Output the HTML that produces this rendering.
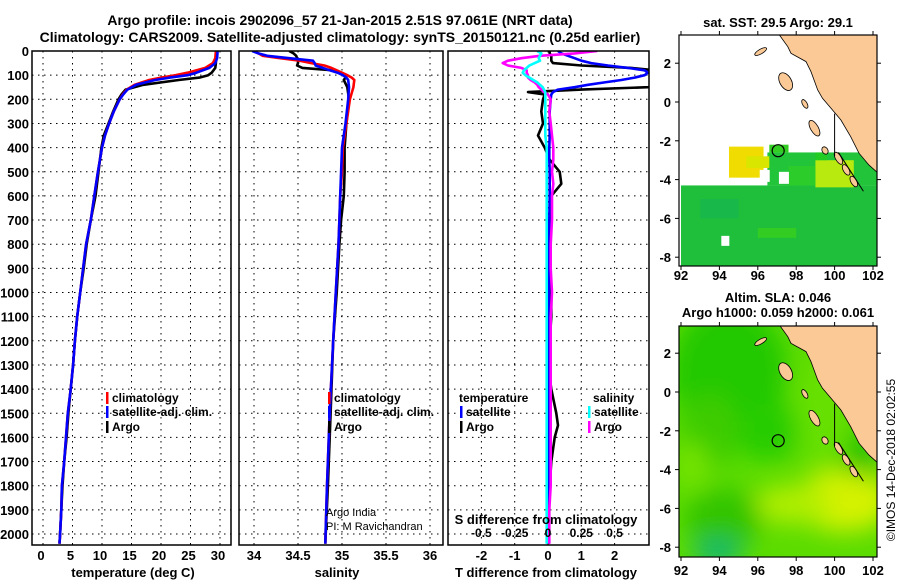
<!DOCTYPE html>
<html><head><meta charset="utf-8"><style>
html,body{margin:0;padding:0;background:#fff;}
svg{display:block;font-family:"Liberation Sans",Arial,sans-serif;font-weight:bold;}
</style></head><body>
<svg id="c" width="900" height="580" viewBox="0 0 900 580">
<defs>
<clipPath id="cp1"><rect x="32" y="51" width="199" height="494"/></clipPath>
<clipPath id="cp2"><rect x="239" y="51" width="204" height="494"/></clipPath>
<clipPath id="cp3"><rect x="448" y="51" width="201" height="494"/></clipPath>
<clipPath id="cm1"><rect x="679" y="35" width="198" height="231"/></clipPath>
<clipPath id="cm2"><rect x="679" y="326" width="198" height="231"/></clipPath>
<filter id="bl" x="-50%" y="-50%" width="200%" height="200%"><feGaussianBlur stdDeviation="12"/></filter>
</defs>
<text x="340" y="25" font-size="14" text-anchor="middle">Argo profile: incois 2902096_57 21-Jan-2015 2.51S 97.061E (NRT data)</text>
<text x="340" y="42" font-size="14" text-anchor="middle">Climatology: CARS2009. Satellite-adjusted climatology: synTS_20150121.nc (0.25d earlier)</text>
<g id="g"></g>
</svg>
<script>
// ---- data ----
const tDepth=[0,30,50,70,90,100,110,120,140,160,180,200,250,300,350,400,500,600,700,800,900,1000,1100,1200,1300,1400,1500,1600,1700,1800,1900,2000,2040];
const tClim=[29.3,29.2,28.8,27.5,24.5,22.5,20,18,15.5,14.2,13.5,13,12,11.2,10.5,10,9.3,8.7,8.1,7.3,6.8,6.3,5.8,5.4,5.1,4.7,4.2,3.9,3.6,3.2,3.1,2.9,2.8];
const tSat=[29.6,29.5,29.2,28.2,26,24.5,21.5,19,15.8,14.3,13.6,13,12,11.2,10.5,10,9.3,8.7,8.1,7.3,6.8,6.3,5.8,5.4,5.1,4.7,4.2,3.9,3.6,3.2,3.1,2.9,2.8];
const tArgo=[29.4,29.3,29.3,29.2,28.6,28,26.5,23,17,14,13.3,12.8,11.9,11.1,10.3,9.9,9.4,8.9,8.1,7.4,6.9,6.3,5.8,5.4,5.1,4.7,4.3,4,3.6,3.3,3.1,2.9,2.8];
const sDepth=[0,10,20,30,40,50,60,70,80,90,100,110,120,150,200,300,400,500,600,700,800,1000,1200,1500,1800,2040];
const sClim=[34.0,34.05,34.1,34.3,34.52,34.65,34.8,34.88,34.94,35.0,35.06,35.11,35.14,35.13,35.09,35.05,35.01,35.0,34.98,34.97,34.96,34.93,34.9,34.86,34.83,34.81];
const sSat=[33.98,34.05,34.15,34.4,34.67,34.69,34.7,34.78,34.86,34.95,35.01,35.05,35.07,35.08,35.07,35.04,35.0,34.99,34.98,34.97,34.96,34.93,34.9,34.86,34.83,34.81];
const sArgo=[34.4,34.45,34.48,34.49,34.5,34.5,34.49,34.55,34.9,34.98,35.03,35.04,35.02,35.06,35.08,35.05,35.03,35.03,35.02,34.99,34.97,34.94,34.9,34.87,34.84,34.81];
const dDepth=[0,10,20,30,40,50,60,70,80,90,100,110,120,130,140,150,160,170,180,200,250,300,350,400,450,500,550,600,700,800,900,1000,1100,1200,1300,1400,1500,1550,1600,1700,1800,1900,2000,2040];
const dTSat=[0.3,0.4,0.6,0.8,1.0,1.3,1.8,2.4,2.9,3.0,2.9,2.6,2.2,1.7,1.2,0.8,0.3,0.15,0.1,0.08,0.05,0.05,0.05,0.04,0.04,0.05,0.05,0.05,0.04,0.04,0.03,0.03,0.02,0.02,0.02,0.02,0.02,0.02,0.02,0.02,0.02,0.02,0.02,0.02];
const dTArgo=[0.05,0.05,0.1,0.1,0.1,0.15,1,2.5,3.2,3.5,3.6,3.7,3.8,3.8,3.8,3.0,1.0,-0.6,-0.1,-0.15,-0.2,-0.15,-0.3,-0.1,0.05,0.35,0.4,0.1,0.05,0.05,0.05,0.1,0.1,0.05,0.0,0.1,0.25,0.3,0.2,0.1,0.05,0.0,0.0,0.0];
const dSArgo=[0.37,0.2,-0.06,-0.2,-0.3,-0.34,-0.3,-0.2,-0.16,-0.16,-0.15,-0.15,-0.13,-0.1,-0.08,-0.07,-0.05,-0.03,0.0,0.02,0.01,0.02,0.03,0.04,0.04,0.03,0.04,0.03,0.03,0.02,0.02,0.03,0.02,0.02,0.02,0.02,0.02,0.02,0.02,0.02,0.02,0.01,0.01,0.01];
const dSSat=[-0.08,-0.05,-0.06,-0.07,-0.06,-0.1,-0.14,-0.16,-0.18,-0.19,-0.17,-0.14,-0.11,-0.08,-0.06,-0.04,-0.03,-0.02,-0.02,-0.02,-0.02,-0.02,-0.02,-0.01,-0.01,-0.01,-0.01,-0.01,-0.01,-0.01,-0.01,-0.01,-0.01,-0.01,-0.01,-0.01,-0.01,-0.01,-0.01,-0.01,-0.01,-0.01,-0.01,-0.01];
const depthTicks=[0,100,200,300,400,500,600,700,800,900,1000,1100,1200,1300,1400,1500,1600,1700,1800,1900,2000];
const tTicks=[0,5,10,15,20,25,30];
const sTicks=[34,34.5,35,35.5,36];
const sTickLabels=["34","34.5","35","35.5","36"];
const dTTicks=[-2,-1,0,1,2];
const dSTicks=[-0.5,-0.25,0,0.25,0.5];
const dSTickLabels=["-0.5","-0.25","0","0.25","0.5"];
const lonTicks=[92,94,96,98,100,102];
const latTicks=[2,0,-2,-4,-6,-8];
const floatLon=97.061, floatLat=-2.51;
// ---- axes ----
const yD=d=>51+d*0.2415;
const xT=t=>43+t*5.9;
const xS=s=>254+(s-34)*88;
const xDT=v=>548+v*33.3;
const xDS=v=>548+v*133.2;
const mx=lon=>681+(lon-92)*19.2;
const myTop=lat=>102-lat*19.4;
const myBot=lat=>392-lat*19.4;
const NS="http://www.w3.org/2000/svg";
const G=document.getElementById('g');
function el(tag,attrs,parent){const e=document.createElementNS(NS,tag);for(const k in attrs)e.setAttribute(k,attrs[k]);(parent||G).appendChild(e);return e;}
function txt(x,y,s,size,anchor,parent){const t=el('text',{x:x,y:y,'font-size':size,'text-anchor':anchor||'middle'},parent);t.textContent=s;return t;}
function panelFrame(x0,x1,name){
  const r=el('rect',{x:x0,y:51,width:x1-x0,height:494,fill:'none',stroke:'#000','stroke-width':1.5});
  
  
}
function grid(xs,x0,x1,clip){
  const g=el('g',{stroke:'#000','stroke-width':1,'stroke-dasharray':'1.5 4.5','clip-path':'url(#'+clip+')'});
  
  
  xs.forEach(x=>el('line',{x1:x,x2:x,y1:51,y2:545},g));
  depthTicks.forEach(d=>el('line',{x1:x0,x2:x1,y1:yD(d),y2:yD(d)},g));
}
function line(dep,vals,fx,color,clip,name,w){
  const n=Math.min(dep.length,vals.length);let p='';
  for(let i=0;i<n;i++)p+=(i?'L':'M')+fx(vals[i]).toFixed(1)+','+yD(dep[i]).toFixed(1);
  const e=el('path',{d:p,fill:'none',stroke:color,'stroke-width':w||2.6,'stroke-linejoin':'round','clip-path':'url(#'+clip+')'});
  
  
}
// depth labels
depthTicks.forEach(d=>{const t=txt(29,yD(d)+5,String(d),13,'end');
  
  });
// panel 1 temperature
grid(tTicks.map(xT),32,231,'cp1');
line(tDepth,tArgo,xT,'#000','cp1','temp-argo-line');
line(tDepth,tClim,xT,'#f00','cp1','temp-climatology-line');
line(tDepth,tSat,xT,'#00f','cp1','temp-satellite-line');
panelFrame(32,231,'temperature-panel');
tTicks.forEach(v=>{const t=txt(xT(v)-2,560,String(v),13);
  
  });
let at=txt(133,577,'temperature (deg C)',13);

// panel 2 salinity
grid(sTicks.map(xS),239,443,'cp2');
line(sDepth,sArgo,xS,'#000','cp2','salinity-argo-line');
line(sDepth,sClim,xS,'#f00','cp2','salinity-climatology-line');
line(sDepth,sSat,xS,'#00f','cp2','salinity-satellite-line');
panelFrame(239,443,'salinity-panel');
sTicks.forEach((v,i)=>{const t=txt(xS(v),560,sTickLabels[i],13);
  
  });
at=txt(337,577,'salinity',13);

// panel 3 differences
grid(dTTicks.map(xDT),448,649,'cp3');
line(dDepth,dTArgo,xDT,'#000','cp3','tdiff-argo-line');
line(dDepth,dTSat,xDT,'#00f','cp3','tdiff-satellite-line');
line(dDepth,dSArgo,xDS,'#f0f','cp3','sdiff-argo-line');
line(dDepth,dSSat,xDS,'#0ff','cp3','sdiff-satellite-line');
panelFrame(448,649,'difference-panel');
dTTicks.forEach(v=>{const t=txt(xDT(v),560,String(v),13);
  
  });
dSTicks.forEach((v,i)=>{const t=txt(xDS(v),537,dSTickLabels[i],12);
  
  });
at=txt(546,524,'S difference from climatology',13);

at=txt(546,577,'T difference from climatology',13);

// legends
function leg(x,y,color,label,name,size){
  const g=el('g',{});
  el('rect',{x:x,y:y-10,width:2.5,height:12,fill:color},g);
  txt(x+6,y,label,size||12,'start',g);
}
leg(106,402,'#f00','climatology','legend-temp-climatology');
leg(106,416,'#00f','satellite-adj. clim.','legend-temp-satellite');
leg(106,431,'#000','Argo','legend-temp-argo');
leg(328,402,'#f00','climatology','legend-sal-climatology');
leg(328,416,'#00f','satellite-adj. clim.','legend-sal-satellite');
leg(328,431,'#000','Argo','legend-sal-argo');
at=txt(459,402,'temperature',12,'start');
leg(460,416,'#00f','satellite','legend-tdiff-satellite');
leg(460,431,'#000','Argo','legend-tdiff-argo');
at=txt(593,402,'salinity',12,'start');
leg(588,416,'#0ff','satellite','legend-sdiff-satellite');
leg(588,431,'#f0f','Argo','legend-sdiff-argo');
let cr=el('text',{x:326,y:516,'font-size':11,'font-weight':'normal'});cr.textContent='Argo India';

cr=el('text',{x:326,y:530,'font-size':11,'font-weight':'normal'});cr.textContent='PI: M Ravichandran';


// ---- maps ----
function land(my,g){
  const coast=[[97.13,3.45],[97.56,2.85],[97.73,2.51],[98.51,2.08],[98.77,1.56],[99.12,0.62],[99.37,0.19],[99.89,-0.41],[100.33,-0.93],[100.84,-1.79],[101.27,-2.64],[101.79,-3.25],[102.3,-3.7],[102.3,3.5]];
  const p=coast.map((c,i)=>(i?'L':'M')+mx(c[0]).toFixed(1)+','+my(c[1]).toFixed(1)).join('')+'Z';
  const l=el('path',{d:p,fill:'#fbc996',stroke:'#000','stroke-width':0.8},g);
  
  const isl=[[96.15,2.6,0.35,0.12],[97.45,1.05,0.3,0.5],[98.45,-0.1,0.12,0.25],[98.95,-1.35,0.2,0.45],[99.5,-2.5,0.15,0.2],[100.2,-2.9,0.15,0.35],[100.6,-3.5,0.15,0.3],[101.0,-4.1,0.15,0.3]];
  isl.forEach(s=>{const e=el('ellipse',{cx:mx(s[0]),cy:my(s[1]),rx:s[2]*19.2,ry:s[3]*19.4,fill:'#fbc996',stroke:'#000','stroke-width':0.8,transform:'rotate(-30 '+mx(s[0])+' '+my(s[1])+')'},g);
    });
  el('line',{x1:mx(100),y1:my(-0.6),x2:mx(100),y2:my(-2.8),stroke:'#000','stroke-width':1},g);
  el('line',{x1:mx(100.2),y1:my(-2.6),x2:mx(101.5),y2:my(-4.6),stroke:'#000','stroke-width':1},g);
}
function mapAxes(my,y0,name,labelY){
  const r=el('rect',{x:679,y:y0,width:198,height:231,fill:'none',stroke:'#000','stroke-width':1.2});
  
  lonTicks.forEach(v=>{const t=txt(mx(v),labelY,String(v),13);
    el('line',{x1:mx(v),x2:mx(v),y1:y0,y2:y0-4,stroke:'#000'});el('line',{x1:mx(v),x2:mx(v),y1:y0+231,y2:y0+235,stroke:'#000'});});
  latTicks.forEach(v=>{const t=txt(671,my(v)+5,String(v),13,'end');
    el('line',{x1:675,x2:679,y1:my(v),y2:my(v),stroke:'#000'});el('line',{x1:877,x2:881,y1:my(v),y2:my(v),stroke:'#000'});});
  const c=el('circle',{cx:mx(floatLon),cy:my(floatLat),r:6,fill:'none',stroke:'#000','stroke-width':1.2});
  
}
// top map: SST patches [lon0,lat0,lon1,lat1,color]
const sstPatches=[[92,-4.3,102.3,-8.6,'#1fbf3c'],[96.5,-2.6,102.3,-4.3,'#22c43a'],[94.5,-2.3,96.3,-3.9,'#f0dc00'],[95.4,-2.8,96.6,-3.4,'#d8e600'],[99,-3.0,101,-4.4,'#b8ea10'],[96.6,-2.2,97.6,-2.6,'#33cc22'],[99,-2.6,99.6,-3.0,'#22cc22'],[100.1,1.8,101.5,2.8,'#11bb55'],[97.6,-3.3,99,-4.3,'#2ccc2a'],[93,-5,95,-6,'#18b84a'],[96,-6.5,98,-7,'#33cc22']];
const topMap=el('g',{'clip-path':'url(#cm1)'});
sstPatches.forEach(p=>{const r=el('rect',{x:mx(p[0]),y:myTop(p[1]),width:mx(p[2])-mx(p[0]),height:myTop(p[3])-myTop(p[1]),fill:p[4]},topMap);
  });
el('rect',{x:mx(96.1),y:myTop(-3.5),width:10,height:12,fill:'#fff'},topMap);
el('rect',{x:mx(97.1),y:myTop(-3.6),width:10,height:12,fill:'#fff'},topMap);
el('rect',{x:mx(94.1),y:myTop(-6.9),width:8,height:10,fill:'#fff'},topMap);
land(myTop,topMap);
mapAxes(myTop,35,'sst-map-frame',280);
at=txt(778,27,'sat. SST: 29.5 Argo: 29.1',13);
// bottom map: SLA blobs [lon,lat,rx(deg),ry(deg),color]
const slaBlobs=[[94.5,1,3,3.5,'#22c800'],[96.5,-2,1.8,1.5,'#28cc00'],[93.5,-2,1.5,2,'#3ccc00'],[99.3,-1,1.3,3,'#66e000'],[92.6,-3.8,0.8,1.2,'#77e400'],[100.5,-5.6,2.6,1.6,'#d4f200'],[97.8,-5.8,2,1,'#b0ee00'],[94.2,-6.6,2,1.6,'#33c400'],[93.9,-8.3,1.3,0.7,'#10b870'],[101.4,-3.2,0.8,1.2,'#22c000'],[100.8,2.5,1.2,1,'#33d400']];
const botMap=el('g',{'clip-path':'url(#cm2)'});
el('rect',{x:679,y:326,width:198,height:231,fill:'#5cdc00'},botMap);
const bg=el('g',{filter:'url(#bl)'},botMap);
slaBlobs.forEach(b=>{const e=el('ellipse',{cx:mx(b[0]),cy:myBot(b[1]),rx:b[2]*19.2,ry:b[3]*19.4,fill:b[4]},bg);
  });
land(myBot,botMap);
mapAxes(myBot,326,'sla-map-frame',575);
at=txt(778,302,'Altim. SLA: 0.046',13);
at=txt(778,317,'Argo h1000: 0.059 h2000: 0.061',13);
const cp=el('text',{x:0,y:0,'font-size':12,'font-weight':'normal','text-anchor':'middle',transform:'translate(895,460) rotate(-90)'});
cp.textContent='©IMOS 14-Dec-2018 02:02:55';

</script>
</body></html>
